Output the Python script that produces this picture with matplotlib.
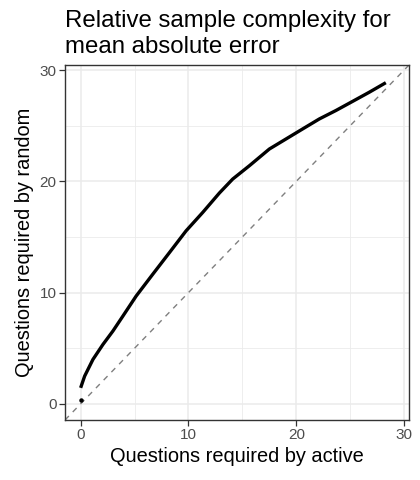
import matplotlib
matplotlib.use("Agg")
import matplotlib.pyplot as plt
import numpy as np

plt.rcParams['font.family'] = ['Liberation Sans', 'DejaVu Sans']

# curve
active_q = [0.0, 0.37, 1.14, 2.07, 2.99, 3.92, 5.15, 6.69, 8.24, 9.78, 11.32,
            12.87, 14.1, 15.65, 17.5, 19.04, 20.58, 22.13, 23.67, 25.2, 26.76, 28.3]
random_q = [1.44, 2.49, 3.99, 5.34, 6.54, 7.89, 9.69, 11.65, 13.6, 15.55, 17.2,
            18.95, 20.2, 21.4, 22.9, 23.8, 24.7, 25.6, 26.36, 27.17, 28.0, 28.86]
start_x = [0.0]
start_y = [0.33]
ticks = [0, 10, 20, 30]
minor_ticks = [5, 15, 25]
title_lines = ['Relative sample complexity for', 'mean absolute error']

fig = plt.figure(figsize=(4.2, 4.8), dpi=100)
ax = fig.add_axes([65 / 420, 1 - 420 / 480, (409 - 65) / 420, (420 - 65) / 480])

lo, hi = -1.45, 30.45
ax.set_xlim(lo, hi)
ax.set_ylim(lo, hi)

# grid like theme_bw
for v in minor_ticks:
    ax.axvline(v, color='#EBEBEB', lw=0.6, zorder=0)
    ax.axhline(v, color='#EBEBEB', lw=0.6, zorder=0)
for v in ticks:
    ax.axvline(v, color='#EBEBEB', lw=1.1, zorder=0)
    ax.axhline(v, color='#EBEBEB', lw=1.1, zorder=0)

ax.plot([lo, hi], [lo, hi], color='#7F7F7F', lw=1.0, dashes=(4, 4), zorder=1)
ax.plot(active_q, random_q, color='black', lw=2.4, solid_capstyle='butt',
        solid_joinstyle='round', zorder=2)
ax.plot(start_x, start_y, 'o', color='black', ms=2.2, zorder=3)

ax.set_xticks(ticks)
ax.set_yticks(ticks)
ax.tick_params(axis='both', direction='out', length=4, width=0.9, color='#333333',
               labelsize=11, labelcolor='#4D4D4D', pad=2)
for s in ax.spines.values():
    s.set_color('#333333')
    s.set_linewidth(1.0)

ax.set_xlabel('Questions required by active', fontsize=14.4, labelpad=3)
ax.set_ylabel('Questions required by random', fontsize=14.4, labelpad=4)

fig.text(65 / 420, 1 - 27.5 / 480, title_lines[0], ha='left', va='baseline', fontsize=17.3)
fig.text(65 / 420, 1 - 53 / 480, title_lines[1], ha='left', va='baseline', fontsize=17.3)

fig.savefig('out.png', dpi=100)
